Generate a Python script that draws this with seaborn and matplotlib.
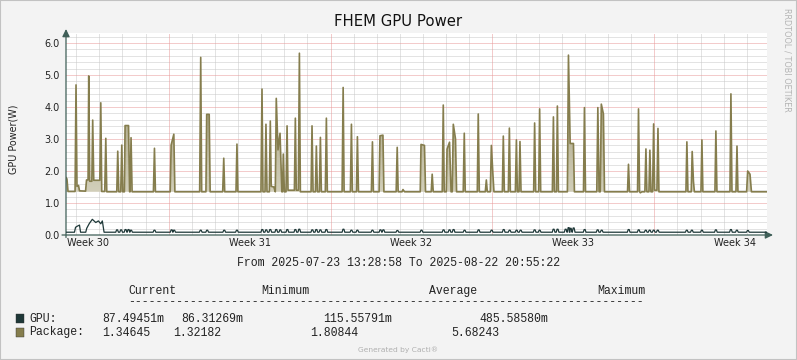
import numpy as np
import pandas as pd
import matplotlib
matplotlib.use("Agg")
import matplotlib.pyplot as plt
import seaborn as sns
from matplotlib.colors import LinearSegmentedColormap
from matplotlib.path import Path
from matplotlib.patches import Rectangle

# ---------------- data ----------------
START = pd.Timestamp("2025-07-23 13:28:58")
END = pd.Timestamp("2025-08-22 20:55:22")
TITLE = "FHEM GPU Power"
Y_LABEL = "GPU Power(W)"
y_ticks = [0, 1, 2, 3, 4, 5, 6]
y_tick_labels = ["0.0", "1.0", "2.0", "3.0", "4.0", "5.0", "6.0"]
week_labels = ["Week 30", "Week 31", "Week 32", "Week 33", "Week 34"]
week_mondays = ["2025-07-21", "2025-07-28", "2025-08-04", "2025-08-11", "2025-08-18"]

# Package power (W): hours since START, values
pkg_h_w30 = [0.0, 1.0, 2.1, 9.4, 10.4, 11.4, 13.0, 14.0, 20.3, 21.3, 22.9, 23.6, 24.6, 26.8, 27.7, 28.8,
             35.1, 36.1, 37.1, 40.2, 41.3, 42.3, 52.7, 53.7, 54.8, 56.8, 57.9, 58.9, 60.6, 61.3, 64.9,
             66.0, 66.5, 67.5, 68.6, 90.7, 91.8, 92.8]
pkg_v_w30 = [1.80, 1.75, 1.36, 1.36, 4.69, 1.52, 1.55, 1.38, 1.37, 1.72, 1.72, 4.97, 1.68, 1.68, 3.59, 1.71,
             1.71, 4.13, 1.36, 1.36, 3.02, 1.35, 1.35, 2.62, 1.35, 1.35, 2.81, 1.35, 1.35, 3.42, 3.42,
             1.35, 1.35, 3.04, 1.35, 1.35, 2.71, 1.35]
pkg_h_w31 = [108.1, 109.1, 111.9, 113.0, 138.7, 139.8, 140.8, 145.2, 146.0, 148.6, 149.6, 162.6, 163.7, 164.7,
             176.4, 177.4, 178.4, 202.3, 203.4, 204.4, 206.5, 207.5, 208.6, 211.0, 212.0, 213.0, 215.7, 217.2,
             218.2, 220.0, 222.1, 224.0, 224.7, 225.5, 226.6, 228.3, 229.4, 230.4, 237.0, 238.0, 239.0, 241.1,
             242.2, 243.2, 254.3, 255.3, 256.4, 258.8, 259.8, 260.9, 262.9, 264.0, 265.0, 269.1, 270.2, 271.2]
pkg_v_w31 = [1.35, 2.81, 3.15, 1.35, 1.35, 5.55, 1.35, 1.35, 3.77, 3.77, 1.35, 1.35, 2.40, 1.35,
             1.35, 2.84, 1.35, 1.35, 4.56, 1.35, 1.35, 3.46, 1.35, 1.35, 3.56, 1.52, 1.50, 1.35,
             4.27, 2.66, 3.18, 1.35, 1.35, 2.53, 1.35, 1.35, 3.41, 1.40, 1.40, 3.65, 1.40, 1.40,
             5.68, 1.35, 1.35, 3.41, 1.35, 1.35, 2.78, 1.35, 1.35, 3.05, 1.35, 1.35, 3.65, 1.35]
pkg_h_w32 = [286.5, 287.6, 288.6, 295.1, 296.2, 297.2, 301.4, 302.4, 303.5, 316.9, 318.0, 319.0, 324.9, 325.8,
             328.9, 329.9, 342.6, 343.7, 344.7, 348.7, 349.7, 351.3, 367.6, 368.4, 372.0, 373.1, 379.0, 380.0,
             381.1, 390.4, 391.5, 392.5, 394.6, 395.4, 398.0, 399.6, 400.8, 401.9, 404.2, 405.3, 412.2, 413.3,
             414.3, 426.8, 427.8, 428.9, 435.1, 436.2, 437.2, 440.3, 441.4]
pkg_v_w32 = [1.35, 4.61, 1.35, 1.35, 3.46, 1.35, 1.35, 3.07, 1.35, 1.35, 2.91, 1.35, 1.35, 3.10,
             3.12, 1.35, 1.35, 2.74, 1.35, 1.35, 1.42, 1.35, 1.35, 2.83, 2.80, 1.35, 1.35, 1.90,
             1.35, 1.35, 4.06, 1.35, 1.35, 2.68, 2.90, 1.35, 1.35, 3.46, 3.00, 1.35, 1.35, 3.18,
             1.35, 1.35, 3.78, 1.35, 1.35, 1.72, 1.35, 1.35, 2.80]
pkg_h_w33 = [443.0, 444.1, 452.8, 453.8, 454.9, 459.0, 460.1, 461.1, 466.3, 467.4, 468.4, 470.1, 471.1, 472.2,
             485.3, 486.3, 487.4, 490.5, 491.5, 492.6, 504.7, 505.8, 506.8, 508.9, 509.9, 511.0, 520.3, 521.4,
             523.2, 526.6, 527.6, 537.0, 538.0, 539.1, 550.8, 551.9, 553.2, 554.4, 555.5, 557.7, 558.8, 582.7,
             583.7, 584.8, 593.1, 594.1, 595.2, 596.0, 597.6, 600.7, 601.8, 602.8, 604.9, 605.9, 607.0, 608.7,
             609.8]
pkg_v_w33 = [1.90, 1.35, 1.35, 3.09, 1.35, 1.35, 3.34, 1.35, 1.35, 2.97, 1.35, 1.35, 2.92, 1.35,
             1.35, 3.50, 1.35, 1.35, 3.94, 1.35, 1.35, 3.69, 1.35, 1.35, 4.03, 1.35, 1.35, 5.62,
             2.86, 2.86, 1.35, 1.35, 3.98, 1.35, 1.35, 3.98, 1.35, 1.35, 4.09, 3.78, 1.35, 1.35,
             2.21, 1.35, 1.35, 3.94, 1.35, 1.32, 1.35, 1.35, 2.69, 1.35, 1.35, 2.65, 1.35, 1.35,
             3.47]
pkg_h_w34 = [610.8, 613.2, 614.3, 615.3, 643.3, 644.3, 645.4, 648.8, 649.8, 651.1, 652.1, 658.9, 659.9, 660.9,
             673.4, 674.4, 675.5, 689.0, 690.0, 691.1, 695.2, 696.3, 697.3, 706.3, 707.4, 709.8, 711.3, 727.4]
pkg_v_w34 = [1.40, 1.40, 3.33, 1.35, 1.35, 2.91, 1.35, 1.35, 2.61, 1.68, 1.35, 1.35, 2.97, 1.35,
             1.35, 3.25, 1.35, 1.35, 4.41, 1.35, 1.35, 2.78, 1.35, 1.35, 2.00, 1.90, 1.35, 1.35]
PKG_BASE = 1.35

# GPU power (W)
gpu_h_early = [0.0, 8.8, 9.9, 11.4, 14.0, 15.1, 20.5, 21.5, 24.2, 27.3, 30.9, 33.6, 36.1, 37.7, 39.5]
gpu_v_early = [0.087, 0.087, 0.24, 0.27, 0.31, 0.087, 0.087, 0.21, 0.36, 0.49, 0.39, 0.44, 0.35, 0.44, 0.087]
gpu_peak_h = [53.0, 57.2, 61.8, 64.9, 67.5, 91.8, 109.6, 112.2, 139.8, 146.5, 164.2, 177.4, 203.7, 207.8,
              212.0, 218.2, 222.4, 229.7, 238.0, 242.1, 255.6, 259.8, 264.0, 270.2, 287.9, 296.2, 302.4,
              318.0, 326.3, 329.4, 343.9, 368.9, 391.8, 398.0, 402.2, 413.6, 428.2, 441.7, 454.2, 460.4,
              467.6, 471.8, 486.3, 491.5, 506.0, 510.1, 518.5, 521.6, 523.7, 526.8, 538.2, 551.7, 555.9,
              583.9, 594.3, 601.6, 605.7, 609.9, 614.1, 644.2, 649.5, 659.9, 674.4, 690.0, 696.2, 707.6]
gpu_peak_v = [0.16, 0.16, 0.17, 0.17, 0.15, 0.15, 0.16, 0.15, 0.15, 0.15, 0.15, 0.15, 0.17, 0.16,
              0.17, 0.17, 0.16, 0.17, 0.17, 0.18, 0.16, 0.17, 0.16, 0.17, 0.18, 0.15, 0.15,
              0.15, 0.16, 0.16, 0.14, 0.15, 0.16, 0.16, 0.17, 0.15, 0.16, 0.15, 0.17, 0.15,
              0.15, 0.15, 0.16, 0.15, 0.18, 0.18, 0.18, 0.23, 0.21, 0.22, 0.17, 0.16, 0.15,
              0.17, 0.16, 0.15, 0.15, 0.15, 0.15, 0.15, 0.15, 0.15, 0.16, 0.17, 0.15, 0.14]
GPU_BASE = 0.087
GPU_END = 0.087

legend_headers = ["Current", "Minimum", "Average", "Maximum"]
series_names = ["GPU:", "Package:"]
gpu_stats = ["87.49451m", "86.31269m", "115.55791m", "485.58580m"]
pkg_stats = ["1.34645", "1.32182", "1.80844", "5.68243"]

# ---------------- assemble ----------------
pkg_h = pkg_h_w30 + pkg_h_w31 + pkg_h_w32 + pkg_h_w33 + pkg_h_w34
pkg_v = pkg_v_w30 + pkg_v_w31 + pkg_v_w32 + pkg_v_w33 + pkg_v_w34
assert len(pkg_h) == len(pkg_v)
assert len(gpu_peak_h) == len(gpu_peak_v)

TOTAL_H = (END - START) / pd.Timedelta(hours=1)

g_pts = list(zip(gpu_h_early, gpu_v_early))
for h, v in zip(gpu_peak_h, gpu_peak_v):
    g_pts += [(h - 1.4, GPU_BASE), (h - 0.5, v), (h + 0.5, v), (h + 1.4, GPU_BASE)]
g_pts.append((TOTAL_H, GPU_END))
g_pts.sort(key=lambda p: p[0])
gpu_df = pd.DataFrame(g_pts, columns=["hours", "watts"])
pkg_df = pd.DataFrame({"hours": pkg_h, "watts": pkg_v})

# ---------------- style ----------------
W, H = 797, 360
sns.set_style("white")
plt.rcParams["font.family"] = ["DejaVu Sans"]

BG = "#f3f3f3"
AXC = "#3f5f58"
PKG_C = "#857d4d"
GPU_C = "#1e3838"
MINOR_C = "#c8c8c8"
MAJOR_C = "#e89898"
TXT = "#222222"

fig = plt.figure(figsize=(W / 100, H / 100), dpi=100)
fig.patch.set_facecolor(BG)

L, R, T, B = 66, 767, 33, 235
ax = fig.add_axes([L / W, 1 - B / H, (R - L) / W, (B - T) / H])
ax.set_facecolor("white")
for s in ax.spines.values():
    s.set_visible(False)

YMAX = 6.0 + (43 - T) / 32.0
ax.set_xlim(0, TOTAL_H)
ax.set_ylim(0, YMAX)

# grid positions
mondays_h = [(pd.Timestamp(m) - START) / pd.Timedelta(hours=1) for m in week_mondays]
mondays_in = [m for m in mondays_h if 0 < m < TOTAL_H]
label_h = [m + 84 for m in mondays_h]
days = pd.date_range(START.normalize() + pd.Timedelta(days=1), END, freq="D")
day_h = [(d - START) / pd.Timedelta(hours=1) for d in days]
day_h = [d for d in day_h if min(abs(d - m) for m in mondays_h) > 1.0]
y_minor = [v for v in np.arange(0.2, YMAX, 0.2) if abs(v - round(v)) > 0.01]

ax.set_xticks(label_h)
ax.set_xticklabels(week_labels)
ax.set_yticks(y_ticks)
ax.set_yticklabels(y_tick_labels)
ax.grid(False)

dot = (0, (1, 1))
for coll in (
    ax.vlines(day_h, 0, YMAX, colors=MINOR_C, linestyles=dot, linewidths=0.72, zorder=0.5),
    ax.hlines(y_minor, 0, TOTAL_H, colors=MINOR_C, linestyles=dot, linewidths=0.72, zorder=0.5),
    ax.hlines(y_ticks[1:], 0, TOTAL_H, colors=MAJOR_C, linestyles=dot, linewidths=0.72, zorder=0.7),
    ax.vlines(mondays_in, 0, YMAX, colors=MAJOR_C, linestyles=dot, linewidths=0.72, zorder=0.8),
):
    coll.set_snap(True)

ax.tick_params(axis="x", which="major", length=0, pad=2.5, labelsize=7, labelcolor=TXT)
ax.tick_params(axis="y", which="major", length=2, width=0.6, color="#777777", pad=2.5,
               labelsize=7, labelcolor=TXT)

# package gradient fill
pk_h = np.array(pkg_h)
pk_v = np.array(pkg_v)
poly = ax.fill_between(pk_h, PKG_BASE, pk_v, where=pk_v > PKG_BASE + 0.004,
                       interpolate=True, color="none", linewidth=0)
paths = poly.get_paths()
if paths:
    clip = Path.make_compound_path(*paths)
    cmap = LinearSegmentedColormap.from_list("pkg", ["#d2cfba", "#b3ae90", "#8f895f"])
    grad = np.linspace(0, 1, 256).reshape(-1, 1)
    im = ax.imshow(grad, extent=[0, TOTAL_H, PKG_BASE, 6.0], origin="lower",
                   cmap=cmap, aspect="auto", zorder=1.5, interpolation="bilinear")
    im.set_clip_path(clip, transform=ax.transData)
ax.set_xlim(0, TOTAL_H)
ax.set_ylim(0, YMAX)

sns.lineplot(data=pkg_df, x="hours", y="watts", ax=ax, color=PKG_C, linewidth=1.2,
             estimator=None, sort=False, zorder=3)
sns.lineplot(data=gpu_df, x="hours", y="watts", ax=ax, color=GPU_C, linewidth=0.9,
             estimator=None, sort=False, zorder=3.2)
ax.set_xlabel("")
ax.set_ylabel("")

# axes with arrows
arrow = dict(arrowstyle="-|>,head_length=0.45,head_width=0.22", color=AXC, lw=0.9,
             shrinkA=0, shrinkB=0)
ax.annotate("", xy=(0, (B - 29) / (B - T)), xytext=(0, -(2.5) / (B - T)),
            xycoords="axes fraction", arrowprops=arrow, annotation_clip=False)
ax.annotate("", xy=((773 - L) / (R - L), 0), xytext=(-4 / (R - L), 0),
            xycoords="axes fraction", arrowprops=arrow, annotation_clip=False)


def fx(x):
    return x / W


def fy(y):
    return 1 - y / H


fig.text(fx(398), fy(21), TITLE, ha="center", va="center", fontsize=10.7, color="#111111")
fig.text(fx(13), fy(139), Y_LABEL, ha="center", va="center", rotation=90, fontsize=6.9, color=TXT)
fig.text(fx(787), fy(60), "RRDTOOL / TOBI OETIKER", ha="center", va="center", rotation=270,
         fontsize=5.9, color="#b4b4b4")

MONO = "Liberation Mono"
MS = 8.3
period = "From {} To {}".format(START.strftime("%Y-%m-%d %H:%M:%S"), END.strftime("%Y-%m-%d %H:%M:%S"))
fig.text(fx(398.5), fy(263.5), period, ha="center", va="center", family=MONO, fontsize=MS, color=TXT)

for txt, x in zip(legend_headers, [128, 261, 428.6, 597.4]):
    fig.text(fx(x), fy(291), txt, ha="left", va="center", family=MONO, fontsize=MS, color=TXT)
fig.text(fx(128), fy(302.5), "-" * 75, ha="left", va="center", family=MONO, fontsize=MS, color=TXT)

rows = [(series_names[0], GPU_C, gpu_stats, [102, 181.5, 323.3, 479.5], 318.5),
        (series_names[1], PKG_C, pkg_stats, [102, 173.5, 310.5, 451.5], 332.5)]
for name, col, stats, xs, y in rows:
    fig.add_artist(Rectangle((fx(15.5), fy(y + 4.5)), 8 / W, 9 / H, transform=fig.transFigure,
                             facecolor=col, edgecolor="#333333", linewidth=0.3))
    fig.text(fx(29.5), fy(y), name, ha="left", va="center", family=MONO, fontsize=MS, color=TXT)
    for s, x in zip(stats, xs):
        fig.text(fx(x), fy(y), s, ha="left", va="center", family=MONO, fontsize=MS, color=TXT)

fig.text(fx(398.5), fy(349.5), "Generated by Cacti®", ha="center", va="center", fontsize=5.4,
         color="#b0b0b0")

fig.add_artist(Rectangle((0, 0), 1, 1, transform=fig.transFigure, fill=False,
                         edgecolor="#c2c2c2", linewidth=1.5))

fig.savefig("out.png", dpi=100, facecolor=BG)
